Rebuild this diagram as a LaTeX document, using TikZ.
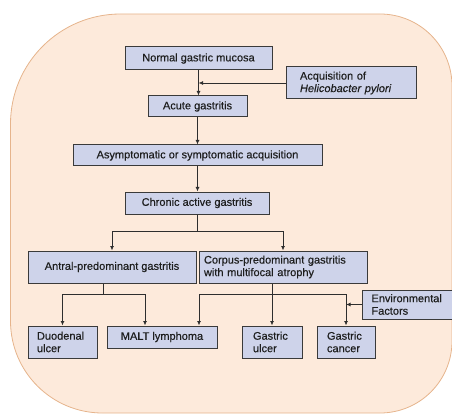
\documentclass[tikz,border=0pt]{standalone}
\usepackage{fontspec}
\setmainfont{Liberation Sans}[UprightFeatures={FakeBold=0.35}, ItalicFeatures={FakeBold=0.35}]
\usetikzlibrary{arrows.meta,calc}
\definecolor{bgfill}{HTML}{FDEADB}
\definecolor{bgline}{HTML}{E6B48C}
\definecolor{boxfill}{HTML}{CED3EA}
\definecolor{boxline}{HTML}{3A3A3A}
\definecolor{lnk}{HTML}{2E2E2E}
\definecolor{txt}{HTML}{1E1E1E}
\begin{document}
\begin{tikzpicture}[x=1pt,y=-1pt,
 font=\fontsize{11}{12.5}\selectfont,
 box/.style={draw=boxline, fill=boxfill, line width=1pt, inner sep=0pt, align=center, text=txt},
 lbox/.style={box, align=left},
 arr/.style={draw=lnk, line width=0.85pt, -{Latex[length=4.5pt,width=4pt]}},
 ln/.style={draw=lnk, line width=0.85pt}]
\useasboundingbox (0,0) rectangle (452,414);
\path[fill=bgfill, draw=bgline, line width=0.8pt]
  (10.5,124) .. controls (10.5,63.25) and (59.75,14) .. (120.5,14)
  -- (380,14) .. controls (419.8,14) and (452,46.2) .. (452,86)
  -- (452,341) .. controls (452,380.8) and (419.8,413) .. (380,413)
  -- (102.5,413) .. controls (51.7,413) and (10.5,371.8) .. (10.5,321)
  -- cycle;

\node[box, minimum width=147pt, minimum height=23pt] (normal) at (198.5,58.5) {Normal gastric mucosa};
\node[box, minimum width=99pt, minimum height=21pt] (acute) at (197.5,106.5) {Acute gastritis};
\node[lbox, inner xsep=14pt, text width=102pt, minimum height=32pt] (acq) at (351,83) {Acquisition of\\\textit{Helicobacter pylori}};
\node[box, minimum width=249pt, minimum height=21pt] (asym) at (197.5,155.5) {Asymptomatic or symptomatic acquisition};
\node[box, minimum width=144pt, minimum height=22pt] (chronic) at (197,203) {Chronic active gastritis};
\node[box, minimum width=168pt, minimum height=32pt] (antral) at (112,267) {Antral-predominant gastritis};
\node[lbox, inner xsep=5pt, text width=158pt, minimum height=32pt] (corpus) at (283,267) {Corpus-predominant gastritis\\with multifocal atrophy};
\node[lbox, inner xsep=9pt, text width=73pt, minimum height=29pt] (env) at (408,304.5) {Environmental\\Factors};
\node[lbox, inner xsep=9pt, text width=51pt, minimum height=32pt] (duod) at (62.5,342) {Duodenal\\ulcer};
\node[box, minimum width=110pt, minimum height=22pt] (malt) at (162,337) {MALT lymphoma};
\node[lbox, inner xsep=11pt, text width=38pt, minimum height=32pt] (gulcer) at (272,342) {Gastric\\ulcer};
\node[lbox, inner xsep=10pt, text width=38pt, minimum height=32pt] (gcancer) at (346,342) {Gastric\\cancer};

\draw[arr] (normal.south) -- (normal.south |- acute.north);
\draw[arr] (acq.west) -- (acq.west -| normal.south);
\draw[arr] (acute.south) -- (acute.south |- asym.north);
\draw[arr] (asym.south) -- (asym.south |- chronic.north);
\coordinate (s1) at ($(chronic.south)+(0,17)$);
\draw[ln] (chronic.south) -- (s1);
\draw[arr] (s1) -| (antral.north);
\draw[arr] (s1) -| (corpus.north);
\coordinate (a1) at ($(antral.south)+(-9,0)$);
\coordinate (a2) at ($(a1)+(0,11)$);
\draw[ln] (a1) -- (a2);
\draw[arr] (a2) -| (duod.north);
\draw[arr] (a2) -| ($(malt.north)+(-17,0)$);
\coordinate (c2) at (gulcer.north |- a2);
\draw[arr] (corpus.south -| gulcer.north) -- (gulcer.north);
\draw[arr] (c2) -| ($(malt.north)+(37,0)$);
\draw[arr] (c2) -| (gcancer.north);
\draw[arr] (env.west) -- (env.west -| gcancer.north);
\end{tikzpicture}
\end{document}
